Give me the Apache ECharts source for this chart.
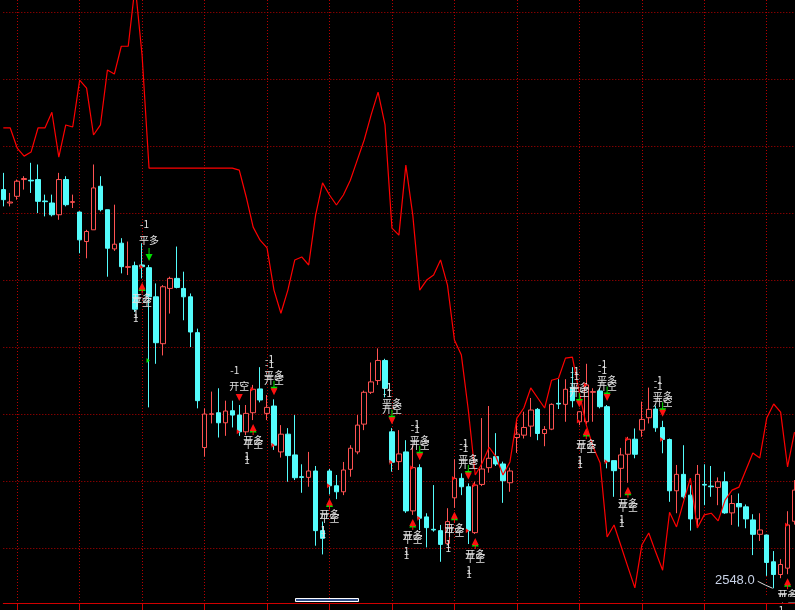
<!DOCTYPE html>
<html><head><meta charset="utf-8">
<script src="https://cdn.jsdelivr.net/npm/echarts@6/dist/echarts.min.js"></script>
<style>html,body{margin:0;padding:0;background:#000;}#c{width:795px;height:610px;}</style>
</head><body><div id="c"></div>
<script>
// ---- data ----
const categories = Array.from({length: 115}, (_, i) => 'K' + (i + 1));
const openP = [2667,2663,2665,2670,2669.8,2670,2663.6,2663,2659.5,2670,
2663.2,2660.3,2651.5,2655,2668,2661,2649.3,2651,2643.8,2644.3,
2644.5,2643.7,2635,2621,2637.5,2640.5,2637.5,2635,2624.3,2590,
2599.9,2600.4,2597.4,2601,2599.7,2594.7,2600.4,2607.5,2600.2,2602.4,
2588.7,2594,2587.8,2581.3,2581.1,2583,2565.2,2583,2578.6,2576.8,
2583.5,2588.7,2597,2606.5,2610,2616,2594.7,2585.8,2588.7,2571.1,
2584,2569.3,2565.6,2565.2,2561.4,2575,2580.8,2578.3,2564.6,2579,
2584,2587.3,2585.1,2579.5,2593,2593.7,2596.4,2601.4,2594.2,2595.5,
2603.2,2602.9,2608,2597.7,2597.7,2606.5,2606.9,2602.2,2586.1,2583.8,
2588,2592.5,2595.2,2598.9,2601.5,2596,2592.4,2577.1,2582,2575.8,
2568.7,2579,2578.5,2578.1,2579.8,2570.5,2573.3,2572.3,2568.4,2564.1,
2563.9,2555.9,2552.1,2554,2568];
const closeP = [2664,2663.3,2669.5,2670.3,2669.6,2663.5,2663.4,2659.5,2670,2662.5,
2663.4,2652,2654.5,2667.5,2661,2649.5,2650.7,2644,2644,2631.3,
2644,2635,2621.3,2638,2640.5,2637.8,2635,2624.5,2604,2600,
2600.1,2597.4,2600.9,2599.7,2594.7,2600.2,2607.4,2604.2,2602,2590.7,
2594,2587.6,2581,2581.1,2583,2565.2,2562.9,2578.6,2576.8,2583.3,
2589.8,2596.7,2606.5,2609.6,2616,2607.7,2585.6,2588.1,2571.1,2584,
2568.9,2566.1,2565.4,2561.1,2567.9,2580.8,2578.3,2565.2,2578.8,2583.6,
2586.8,2585.1,2580.1,2583,2594,2596,2601.2,2594.2,2595.4,2602.9,
2603,2607.4,2604,2600.7,2608.7,2606.7,2602.2,2585.8,2583.1,2587.8,
2592.5,2588,2598.4,2601.4,2595.9,2592.4,2577.1,2582,2575.3,2568.7,
2582,2578.8,2578.3,2579.8,2570.5,2573.3,2572.3,2568.7,2564.1,2565.4,
2555.7,2552.1,2555.1,2566.9,2577.3];
const lowP = [2662,2662,2664,2667,2666,2660,2659,2659,2658,2662,
2661.5,2648,2646.5,2655,2660.5,2641,2648.7,2642,2641.5,2630.5,
2640.5,2602,2615,2617.5,2630,2637.5,2628,2620,2601.7,2587.3,
2597.2,2593,2593.5,2596,2593.5,2593.7,2598.2,2603.5,2598.2,2589.3,
2587,2579.8,2580.3,2576.5,2578.3,2560.7,2558.1,2576,2574.6,2575.8,
2581.3,2588,2595.2,2606,2608.7,2605,2582.8,2583.3,2570.5,2569.9,
2565.4,2560.2,2564.9,2555.9,2561,2572,2575.8,2561.2,2564.2,2578.5,
2582.5,2584.5,2573.5,2576.8,2588.4,2592.7,2593.2,2592.2,2590.4,2595.2,
2601.5,2597.7,2602,2596.7,2597,2597.7,2601.7,2583.8,2575.3,2575.1,
2579.5,2586.8,2593.2,2597.2,2594.7,2588.3,2573.8,2570.4,2574.8,2565.2,
2566,2572.8,2575.3,2572.8,2570.2,2566.9,2566.4,2565.9,2557.9,2562.1,
2551.7,2548,2551,2552.2,2567];
const highP = [2672,2666,2670,2671,2675,2674.5,2665.5,2665.5,2672,2671,
2665.5,2660.5,2655,2674.5,2671,2661,2662.5,2652.5,2651.5,2645.5,
2651,2644.5,2639,2638.5,2641,2650,2642.5,2636,2625.5,2601.7,
2606.7,2607.7,2604,2604,2602.7,2602.7,2608.7,2614,2605.7,2604.4,
2596.7,2595.8,2599.7,2585,2588.7,2584.5,2567.9,2583.6,2581.8,2585.7,
2590.7,2599.7,2607,2615.4,2619.6,2616.5,2595.8,2595.2,2592.2,2590.7,
2585,2570.4,2578.8,2566.9,2571.9,2586.5,2582.3,2579.3,2579.8,2598.8,
2602.4,2594.3,2585.8,2584,2597.7,2600.7,2604.8,2601.8,2596.4,2603.2,
2610.4,2610.4,2614,2600.8,2615,2607.7,2607.8,2602.7,2586.1,2589.9,
2593.2,2595.7,2603.7,2607.9,2602.5,2598,2592.7,2584.8,2590.7,2578.8,
2584.8,2585,2584.5,2581.1,2582.8,2575.8,2576.3,2573,2570.1,2570.4,
2564,2559.1,2556.7,2571,2580.3];
const lineVals = [2685.4,2685.4,2679.4,2677,2678.2,2685.4,2685.4,2690.1,2676.7,2686.3,
2685.7,2699.7,2697.3,2683.3,2686.3,2702.7,2701.5,2709.8,2709.8,2728,
2707,2673.4,2673.4,2673.4,2673.4,2673.4,2673.4,2673.4,2673.4,2673.4,
2673.4,2673.4,2673.4,2673.4,2672.8,2664.8,2655.8,2651.9,2649.6,2637,
2630.1,2637,2646,2646.9,2644.5,2659.4,2669,2665.4,2662.4,2665.4,
2669.8,2675.8,2681.8,2689.3,2696.1,2686.3,2655.5,2653.4,2674.3,2659.4,
2637,2640,2641.5,2646,2638.5,2622.1,2617.6,2601.2,2581.8,2585.4,
2590.1,2587.2,2581.8,2585.7,2598.8,2601.8,2607.8,2604.8,2601.8,2610.1,
2610.7,2616.7,2617,2606.3,2596.7,2590.1,2585.4,2563.3,2566.9,2560.6,
2554.3,2548.1,2560.9,2564.5,2558.8,2553.4,2570.7,2566.3,2573.7,2580.9,
2566,2569.9,2570.4,2568.1,2574.3,2577.3,2578.2,2583.3,2588.4,2586.9,
2598.8,2603,2600.6,2584.2,2594.6];
// signals: BPK = 平空+开多, SPK = 平多+开空, SP = 平多, SK = 开空
const sigIdx  = [20,21,34,36,39,47,56,59,60,65,67,68,83,84,87,90,95,113];
const sigType = ['BPK','SP','SK','BPK','SPK','BPK','SPK','BPK','SPK','BPK','SPK','BPK','SPK','BPK','SPK','BPK','SPK','BPK'];
const sigFlag = [2644,2616,2594.7,2607.4,2590.7,2578.6,2585.6,2584,2568.9,2580.8,2565.2,2578.8,2597.9,2608.7,2585.8,2592.5,2592.4,2566.9];
const yGridVals = [2560,2580,2600,2620,2640,2660,2680,2700,2720];
const yRange = [2543.6, 2723.6];

// ---- chart ----
const UP = '#ff5252', DOWN = '#54fcfc', TXT = '#e2e2e2';
const FONT = '10px "Noto Sans CJK SC"';
const GRIDC = '#b80000';
const candleData = openP.map((o, i) => [o, closeP[i], lowP[i], highP[i]]);
let minI = 0;
lowP.forEach((v, i) => { if (v < lowP[minI]) minI = i; });

function tri(cx, tip, dir, color) { // dir -1: pointing down, 1: pointing up
  const b = tip + (dir > 0 ? 7 : -7);
  return {type: 'polygon', shape: {points: [[cx - 3.5, b], [cx + 3.5, b], [cx, tip]]}, style: {fill: color}};
}
function txt(x, y, s, align) {
  return {type: 'text', style: {x: x, y: y, text: s, fill: TXT, font: FONT, align: align || 'center', verticalAlign: 'middle'}};
}
function renderSignal(params, api) {
  const k = params.dataIndex;
  const type = sigType[k];
  const i = sigIdx[k];
  const sell = type[0] === 'S';
  const a = api.coord([i, sell ? highP[i] : lowP[i]]);
  const f = api.coord([i, sigFlag[k]]);
  const x = a[0];
  const ch = [];
  if (sell) {
    const tip = a[1] - 4;
    if (type === 'SPK' || type === 'SP') {
      const d = -5.5, da = type === 'SPK' ? -1.5 : 0;
      ch.push({type: 'line', shape: {x1: x, y1: tip + da - 13, x2: x, y2: tip + da - 6}, style: {stroke: '#00e000', lineWidth: 1}});
      ch.push(tri(x, tip + da, -1, '#00e000'));
      ch.push(txt(x, tip - 15 + d, '平多'));
      ch.push(txt(x - 9, tip - 31 + d, '-1', 'left'));
    }
    if (type === 'SPK' || type === 'SK') {
      ch.push(tri(x, tip, -1, '#ff1010'));
      ch.push(txt(x, tip - 15, '开空'));
      ch.push(txt(x - 9, tip - 31, '-1', 'left'));
    }
  } else {
    const tip = a[1] + 4;
    ch.push(tri(x, tip + 1.5, 1, '#00e000'));
    ch.push(txt(x, tip + 20, '平空'));
    ch.push(txt(x - 9, tip + 36, '1', 'left'));
    ch.push({type: 'line', shape: {x1: x, y1: tip + 6, x2: x, y2: tip + 11}, style: {stroke: '#ff1010', lineWidth: 1}});
    ch.push(tri(x, tip, 1, '#ff1010'));
    ch.push(txt(x, tip + 16, '开多'));
    ch.push(txt(x - 9, tip + 32, '1', 'left'));
  }
  ch.push({type: 'polygon', shape: {points: [[x - 2.5, f[1] - 2.5], [x - 2.5, f[1] + 2.5], [x + 0.8, f[1]]]},
           style: {fill: type === 'SP' ? '#00e000' : '#ff1010'}});
  return {type: 'group', children: ch};
}
function renderLow(params, api) {
  const p = api.coord([api.value(0), api.value(1)]);
  return {type: 'group', children: [
    {type: 'polyline', shape: {points: [[p[0] - 1, p[1]], [p[0] - 8, p[1] - 3], [p[0] - 16, p[1] - 7]]}, style: {stroke: '#d8d8d8', lineWidth: 1, fill: null}},
    {type: 'text', style: {x: p[0] - 19, y: p[1] - 8, text: api.value(1).toFixed(1), fill: '#c8d2e6', font: '13px "Liberation Sans"', align: 'right', verticalAlign: 'middle'}}
  ]};
}
const gridTick = (idx) => (idx - 2) % 9 === 0;

const chart = echarts.init(document.getElementById('c'), null, {renderer: 'canvas'});
chart.setOption({
  backgroundColor: '#000',
  animation: false,
  grid: {left: 3.3, right: 0.5, top: 0, bottom: 7, containLabel: false},
  xAxis: {
    type: 'category', data: categories, boundaryGap: false,
    axisLine: {lineStyle: {color: '#d00000', width: 1}},
    axisTick: {show: true, length: 7, interval: gridTick, lineStyle: {color: '#d00000'}},
    axisLabel: {show: false},
    splitLine: {show: true, interval: gridTick, lineStyle: {color: GRIDC, type: [1, 2], width: 1}}
  },
  yAxis: {
    type: 'value', min: yRange[0], max: yRange[1],
    axisLine: {show: false}, axisTick: {show: false}, axisLabel: {show: false},
    splitLine: {show: false}
  },
  series: [
    {type: 'candlestick', data: candleData, barWidth: 5, clip: false, z: 2,
     itemStyle: {color: '#000', color0: DOWN, borderColor: UP, borderColor0: DOWN, borderWidth: 1}},
    {type: 'line', data: lineVals, showSymbol: false, symbol: 'none', z: 3, clip: true,
     lineStyle: {color: '#ff0000', width: 1.2},
     markLine: {silent: true, symbol: ['none', 'none'], label: {show: false}, z: 1,
       lineStyle: {color: GRIDC, type: [1, 2], width: 1},
       emphasis: {disabled: true},
       data: yGridVals.map(v => ({yAxis: v}))}},
    {type: 'custom', renderItem: renderSignal, z: 5, clip: false,
     data: sigIdx.map((i, k) => [i, sigFlag[k]]), encode: {x: 0, y: 1}},
    {type: 'custom', renderItem: renderLow, z: 5, clip: false,
     data: [[minI, lowP[minI]]], encode: {x: 0, y: 1}}
  ],
  graphic: [
    {type: 'rect', z: 100, shape: {x: 760, y: 597, width: 35, height: 5.5}, style: {fill: '#000'}},
    {type: 'rect', z: 101, shape: {x: 295.5, y: 598.5, width: 63, height: 3}, style: {fill: '#2c4a86', stroke: '#ffffff', lineWidth: 1}}
  ]
});
</script></body></html>
